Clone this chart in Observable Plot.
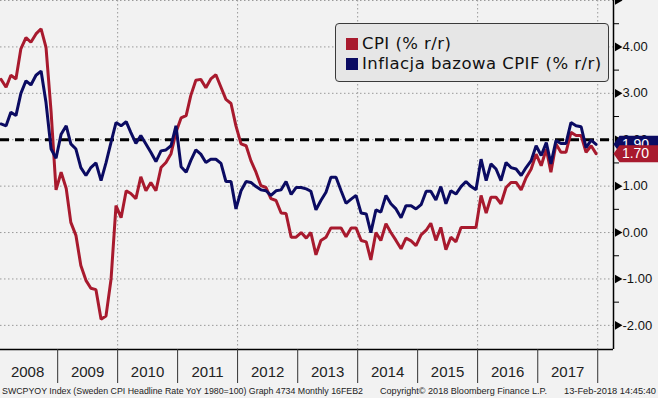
<!DOCTYPE html>
<html><head><meta charset="utf-8">
<script src="https://cdn.jsdelivr.net/npm/d3@7"></script>
<script src="https://cdn.jsdelivr.net/npm/@observablehq/plot@0.6"></script>
<style>
body{margin:0;background:#f2f2f2;}
#wrap{position:relative;width:658px;height:398px;overflow:hidden;background:#f2f2f2;}
#chart svg{display:block;}
#legend{position:absolute;left:335px;top:23px;width:272px;height:57px;border:1px solid #3a3a3a;border-radius:4px;background:#e6e6e6;font:16.5px "DejaVu Sans",sans-serif;letter-spacing:0.45px;color:#111;}
.item{position:absolute;left:10px;height:20px;line-height:20px;white-space:nowrap;}
.sw{display:inline-block;width:12px;height:12px;margin-right:4px;vertical-align:-1px;}
#footer{position:absolute;left:0;top:384px;}
</style></head>
<body>
<div id="wrap">
  <div id="chart"></div>
  <div id="legend"></div>
  <div id="footer"></div>
</div>
<script>
// ---- data (monthly, Jan 2008 .. Dec 2017) ----
const startYear = 2008;
const seriesNames = ["CPI (% r/r)", "Inflacja bazowa CPIF (% r/r)"];
const seriesColors = ["#a81a2e", "#0b0b62"];
const cpi = [
  3.30, 3.13, 3.39, 3.31, 3.96, 4.20, 4.10, 4.28, 4.39, 3.99, 2.60, 0.92,
  1.30, 0.95, 0.22, -0.06, -0.71, -1.03, -1.20, -1.23, -1.87, -1.80, -1.00, 0.58,
  0.32, 0.90, 0.84, 0.73, 1.20, 0.90, 1.08, 0.90, 1.40, 1.51, 1.70, 2.16,
  2.47, 2.52, 2.95, 3.28, 3.30, 3.12, 3.31, 3.40, 3.13, 2.87, 2.78, 2.30,
  1.91, 1.87, 1.55, 1.30, 1.01, 0.97, 0.73, 0.69, 0.42, 0.41, -0.10, -0.10,
  0.00, -0.12, 0.00, -0.48, -0.17, -0.10, 0.10, 0.10, 0.10, -0.09, 0.10, 0.10,
  -0.17, -0.20, -0.59, 0.00, -0.17, 0.19, 0.00, -0.17, -0.35, -0.12, -0.18, -0.28,
  -0.05, 0.05, 0.20, -0.17, 0.11, -0.37, -0.10, -0.20, 0.11, 0.11, 0.11, 0.11,
  0.80, 0.42, 0.76, 0.76, 0.62, 0.97, 1.08, 1.08, 0.92, 1.18, 1.37, 1.69,
  1.44, 1.80, 1.30, 1.91, 1.73, 1.73, 2.16, 2.09, 2.09, 1.73, 1.87, 1.70
];
const cpif = [
  2.34, 2.30, 2.59, 2.52, 3.00, 3.27, 3.18, 3.39, 3.48, 2.80, 1.80, 1.60,
  2.12, 2.30, 1.91, 1.80, 1.40, 1.23, 1.40, 1.50, 1.12, 1.50, 1.95, 2.37,
  2.30, 2.39, 2.16, 1.92, 2.09, 1.91, 1.73, 1.53, 1.76, 1.78, 1.87, 2.30,
  1.42, 1.30, 1.55, 1.78, 1.69, 1.51, 1.58, 1.58, 1.49, 1.10, 1.10, 0.51,
  0.90, 1.10, 1.08, 0.99, 0.92, 0.90, 0.80, 0.90, 0.92, 1.10, 0.82, 0.97,
  0.97, 0.94, 0.89, 0.49, 0.69, 0.87, 1.19, 1.19, 0.90, 0.63, 0.72, 0.80,
  0.42, 0.40, 0.00, 0.49, 0.44, 0.80, 0.62, 0.51, 0.32, 0.58, 0.58, 0.51,
  0.60, 0.89, 0.89, 0.70, 0.99, 0.62, 0.90, 0.83, 0.99, 1.10, 0.99, 0.92,
  1.58, 1.12, 1.48, 1.37, 1.12, 1.51, 1.40, 1.37, 1.23, 1.40, 1.55, 1.87,
  1.66, 1.94, 1.48, 1.98, 1.92, 1.92, 2.37, 2.30, 2.28, 1.83, 1.99, 1.90
];
const targetLevel = [2];
const yearLabels = [2008, 2009, 2010, 2011, 2012, 2013, 2014, 2015, 2016, 2017];
const yTickValues = [-2, -1, 0, 1, 2, 3, 4];
const yArrowValues = [-2, -1, 0, 1, 2, 3, 4, 5];
const yMinorValues = [-1.5, -0.5, 0.5, 1.5, 2.5, 3.5, 4.5];
const yGridValues = [-2, -1, 0, 1, 2, 3, 4, 5];
const gridYears = [2010, 2012, 2014, 2016, 2018];
const footerTexts = [
  "SWCPYOY Index (Sweden CPI Headline Rate YoY 1980=100) Graph 4734  Monthly 16FEB2",
  "Copyright\u00a9 2018 Bloomberg Finance L.P.",
  "13-Feb-2018 14:45:40"
];

// ---- build tables ----
const dateOf = i => new Date(Date.UTC(startYear, i, 22));
const rowsCpi = cpi.map((v, i) => ({date: dateOf(i), value: v}));
const rowsCpif = cpif.map((v, i) => ({date: dateOf(i), value: v}));
const tagCpif = [{value: cpif[cpif.length - 1], color: seriesColors[1]}];
const tagCpi = [{value: cpi[cpi.length - 1], color: seriesColors[0]}];
const yearStarts = yearLabels.concat([yearLabels[yearLabels.length - 1] + 1]).map(y => new Date(Date.UTC(y, 0, 1)));
const yearMids = yearLabels.map(y => new Date(Date.UTC(y, 6, 2)));
const gridDates = gridYears.map(y => new Date(Date.UTC(y, 0, 1)));

const xDomain = [new Date(Date.UTC(2008, 0, 19)), new Date(Date.UTC(2018, 3, 7))];
const yDomain = [-2.52, 5.0];

const tagSymbol = {
  draw(ctx) {
    ctx.moveTo(0, 0);
    ctx.lineTo(6, -8.5);
    ctx.lineTo(50, -8.5);
    ctx.lineTo(50, 8.5);
    ctx.lineTo(6, 8.5);
    ctx.closePath();
  }
};
const tagMarks = tags => [
  Plot.dot(tags, {y: "value", frameAnchor: "right", symbol: tagSymbol, r: 5, fill: "color", stroke: "none"}),
  Plot.text(tags, {y: "value", frameAnchor: "right", textAnchor: "middle", dx: 22, text: d => d.value.toFixed(2), fill: "#fff", fontSize: 14})
];

const chart = Plot.plot({
  width: 658,
  height: 384,
  marginLeft: 0,
  marginRight: 45,
  marginTop: 0,
  marginBottom: 35,
  style: {background: "#f2f2f2", fontFamily: "'Liberation Sans', Arial, sans-serif", fontSize: "13px", color: "#111"},
  x: {type: "utc", domain: xDomain, axis: null},
  y: {domain: yDomain, axis: null},
  marks: [
    Plot.ruleY(yGridValues, {stroke: "#9a9a9a", strokeWidth: 1, strokeDasharray: "1.5,2.5"}),
    Plot.ruleX(gridDates, {stroke: "#9a9a9a", strokeWidth: 1, strokeDasharray: "1.5,2.5"}),
    Plot.ruleY(targetLevel, {stroke: "#000", strokeWidth: 3, strokeDasharray: "9,6"}),
    Plot.line(rowsCpi, {x: "date", y: "value", stroke: seriesColors[0], strokeWidth: 3, strokeLinejoin: "miter"}),
    Plot.line(rowsCpif, {x: "date", y: "value", stroke: seriesColors[1], strokeWidth: 3, strokeLinejoin: "miter"}),
    Plot.ruleY([yDomain[0]], {stroke: "#000", strokeWidth: 1.5}),
    Plot.ruleX([xDomain[1]], {stroke: "#000", strokeWidth: 1.5}),
    Plot.axisX({ticks: yearStarts, tickSize: 34, tickFormat: () => "", stroke: "#333", label: null}),
    Plot.axisX({ticks: yearMids, tickSize: 0, tickPadding: 17, tickFormat: d => String(d.getUTCFullYear()), fontSize: 15, fontFamily: "'Liberation Sans Narrow', 'Liberation Sans', sans-serif", fill: "#222", label: null}),
    Plot.axisY({anchor: "right", ticks: yMinorValues, tickSize: 5, tickFormat: () => "", stroke: "#000", label: null}),
    Plot.dot(yArrowValues, {y: d => d, frameAnchor: "right", symbol: "triangle", rotate: 90, r: 3.2, fill: "#000", dx: 4}),
    Plot.axisY({anchor: "right", ticks: yTickValues, tickSize: 0, tickPadding: 9, tickFormat: d => d.toFixed(2), fontSize: 13, fill: "#111", label: null}),
    ...tagMarks(tagCpif),
    ...tagMarks(tagCpi)
  ]
});
document.getElementById("chart").appendChild(chart);

// legend
const legend = document.getElementById("legend");
seriesNames.forEach((name, i) => {
  const it = document.createElement("div");
  it.className = "item";
  it.style.top = (10 + i * 20) + "px";
  const sw = document.createElement("span");
  sw.className = "sw";
  sw.style.background = seriesColors[i];
  it.appendChild(sw);
  it.appendChild(document.createTextNode(name));
  legend.appendChild(it);
});

// footer
const fx = [2, 380, 564];
const fw = [361, 167, 92];
const fsvg = d3.select("#footer").append("svg").attr("width", 658).attr("height", 14);
fsvg.selectAll("text").data(footerTexts).join("text")
  .attr("x", (d, i) => fx[i]).attr("y", 10)
  .attr("textLength", (d, i) => fw[i]).attr("lengthAdjust", "spacingAndGlyphs")
  .attr("font-family", "'Liberation Sans', sans-serif").attr("font-size", 9.5).attr("fill", "#222")
  .text(d => d);
</script>
</body></html>
